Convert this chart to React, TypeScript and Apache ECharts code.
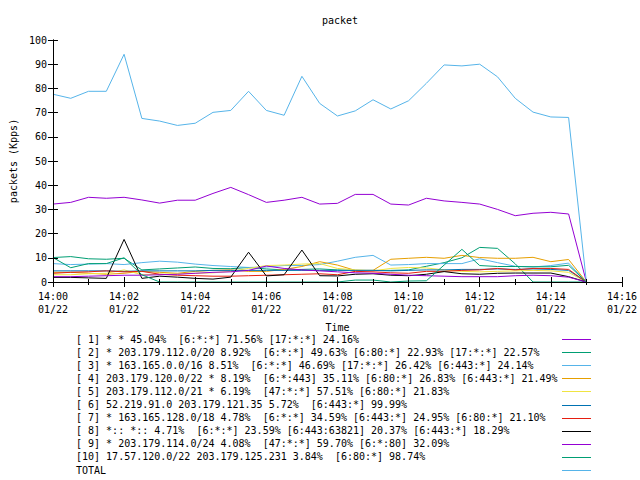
import React, { useEffect, useRef } from "react";
import * as echarts from "echarts";

const FONT = "'DejaVu Sans Mono', 'Liberation Mono', monospace";

const chartTitle = "packet";
const xAxisName = "Time";
const yAxisName = "packets (Kpps)";
const dateLabel = "01/22";
const hourLabel = "14";

const times = [
  "14:00:00", "14:00:30", "14:01:00", "14:01:30", "14:02:00", "14:02:30",
  "14:03:00", "14:03:30", "14:04:00", "14:04:30", "14:05:00", "14:05:30",
  "14:06:00", "14:06:30", "14:07:00", "14:07:30", "14:08:00", "14:08:30",
  "14:09:00", "14:09:30", "14:10:00", "14:10:30", "14:11:00", "14:11:30",
  "14:12:00", "14:12:30", "14:13:00", "14:13:30", "14:14:00", "14:14:30",
  "14:15:00",
];

const s1 = [32.2, 32.9, 35.0, 34.6, 35.0, 33.9, 32.6, 33.8, 33.8, 36.6, 39.1, 36.1, 32.9, 33.8, 35.0, 32.2, 32.5, 36.2, 36.2, 32.2, 31.8, 34.6, 33.5, 32.9, 32.2, 30.0, 27.4, 28.4, 28.8, 28.1, 0];
const s2 = [10.1, 10.5, 9.6, 9.4, 9.8, 5.0, 5.4, 5.8, 6.2, 5.6, 5.5, 6.0, 5.4, 5.0, 5.2, 5.4, 5.0, 4.8, 4.8, 4.8, 5.0, 6.5, 8.0, 10.0, 14.3, 13.9, 7.5, 0, 0, 0, 0];
const s3 = [7.6, 7.2, 7.4, 7.6, 7.2, 8.0, 8.6, 8.2, 7.4, 6.8, 6.4, 6.0, 6.2, 6.8, 6.8, 7.2, 8.6, 10.2, 11.0, 7.0, 7.2, 7.6, 7.6, 7.6, 9.6, 8.0, 6.5, 6.2, 6.8, 7.8, 0];
const s4 = [4.0, 4.0, 3.6, 3.2, 3.6, 4.4, 4.0, 3.6, 4.4, 4.8, 5.0, 4.4, 4.4, 5.2, 6.4, 8.4, 7.0, 4.8, 4.8, 9.4, 9.8, 10.2, 9.8, 11.0, 10.1, 9.8, 9.8, 10.2, 8.4, 9.3, 0];
const s5 = [3.0, 3.0, 3.4, 3.6, 5.0, 3.0, 3.2, 3.4, 3.6, 3.8, 4.4, 5.6, 6.8, 7.0, 7.4, 7.6, 5.6, 5.0, 4.6, 5.6, 6.0, 5.8, 5.0, 4.4, 4.2, 4.4, 4.6, 4.8, 4.6, 4.0, 0];
const s6 = [4.6, 4.6, 4.6, 4.6, 4.4, 4.6, 4.6, 4.6, 4.6, 4.8, 4.8, 4.8, 4.8, 4.8, 4.8, 4.8, 4.8, 4.8, 4.8, 4.6, 4.8, 5.0, 5.0, 5.2, 5.2, 5.4, 5.2, 5.4, 5.2, 4.8, 0];
const s7 = [3.6, 4.0, 4.2, 4.6, 4.2, 4.4, 3.2, 2.8, 2.6, 2.4, 2.4, 2.6, 2.8, 3.0, 3.2, 3.4, 3.0, 4.4, 4.2, 3.8, 3.6, 4.4, 4.4, 4.8, 5.0, 5.6, 5.0, 5.6, 5.6, 5.2, 0];
const s8 = [1.9, 1.9, 1.7, 1.5, 17.6, 1.5, 2.4, 2.0, 1.5, 1.2, 2.0, 12.3, 2.5, 3.0, 13.2, 2.6, 2.5, 3.2, 3.4, 2.8, 2.6, 3.2, 4.3, 3.4, 3.2, 3.6, 3.7, 3.7, 3.7, 2.2, 0];
const s9 = [2.2, 2.2, 2.4, 2.6, 2.8, 2.8, 3.0, 3.2, 3.6, 4.0, 4.2, 4.8, 6.6, 5.6, 5.0, 4.6, 4.2, 3.8, 3.6, 3.2, 2.8, 2.6, 2.4, 2.2, 2.2, 2.2, 2.6, 2.8, 2.6, 2.0, 0];
const s10 = [10.1, 5.9, 7.6, 7.6, 10.0, 3.0, 0, 0, 0, 0, 0, 0, 0, 0, 0, 0, 0, 0.8, 0.8, 0, 0.4, 0.5, 7.0, 13.5, 6.8, 6.4, 6.4, 6.3, 6.3, 6.9, 0];
const total = [77.6, 75.9, 78.8, 78.8, 94.1, 67.6, 66.5, 64.7, 65.6, 70.1, 70.9, 78.8, 70.9, 68.9, 85.0, 73.8, 68.6, 70.7, 75.3, 71.5, 74.9, 82.1, 89.7, 89.3, 90.0, 84.8, 75.9, 70.2, 68.2, 68.0, 0];

const seriesLabels = [
  "[ 1] * * 45.04%  [6:*:*] 71.56% [17:*:*] 24.16%",
  "[ 2] * 203.179.112.0/20 8.92%  [6:*:*] 49.63% [6:80:*] 22.93% [17:*:*] 22.57%",
  "[ 3] * 163.165.0.0/16 8.51%  [6:*:*] 46.69% [17:*:*] 26.42% [6:443:*] 24.14%",
  "[ 4] 203.179.120.0/22 * 8.19%  [6:*:443] 35.11% [6:80:*] 26.83% [6:443:*] 21.49%",
  "[ 5] 203.179.112.0/21 * 6.19%  [47:*:*] 57.51% [6:80:*] 21.83%",
  "[ 6] 52.219.91.0 203.179.121.35 5.72%  [6:443:*] 99.99%",
  "[ 7] * 163.165.128.0/18 4.78%  [6:*:*] 34.59% [6:443:*] 24.95% [6:80:*] 21.10%",
  "[ 8] *:: *:: 4.71%  [6:*:*] 23.59% [6:443:63821] 20.37% [6:443:*] 18.29%",
  "[ 9] * 203.179.114.0/24 4.08%  [47:*:*] 59.70% [6:*:80] 32.09%",
  "[10] 17.57.120.0/22 203.179.125.231 3.84%  [6:80:*] 98.74%",
  "TOTAL",
];

const seriesColors = [
  "#9400d3", "#009e73", "#56b4e9", "#e69f00", "#f0e442",
  "#0072b2", "#e51e10", "#000000", "#9400d3", "#009e73", "#56b4e9",
];

const seriesValues = [s1, s2, s3, s4, s5, s6, s7, s8, s9, s10, total];

function toMinutes(t: string): number {
  const [h, m, s] = t.split(":").map(Number);
  return (h - 14) * 60 + m + s / 60;
}

export default function App() {
  const ref = useRef<HTMLDivElement>(null);
  useEffect(() => {
    document.body.style.margin = "0";
    if (!ref.current) return;
    const chart = echarts.init(ref.current, undefined, { renderer: "svg" });
    const xs = times.map(toMinutes);
    const txt = { fontFamily: FONT, fontSize: 10, color: "#000" };
    const axisLine = { show: true, lineStyle: { color: "#000", width: 1 } };
    const axisTick = { show: true, inside: true, length: 5, lineStyle: { color: "#000", width: 1 } };
    const minorTick = { show: true, splitNumber: 2, length: 3, lineStyle: { color: "#000", width: 1 } };

    const legendTop = 339;
    const legendStep = 13.1;
    const graphic: any[] = [];
    seriesLabels.forEach((lab, i) => {
      const y = legendTop + legendStep * i;
      graphic.push({
        type: "text",
        x: 76,
        y,
        style: { text: lab, fill: "#000", font: `10px ${FONT}`, verticalAlign: "middle", align: "left" },
      });
      graphic.push({
        type: "line",
        shape: { x1: 562, y1: Math.round(y) + 0.5, x2: 591, y2: Math.round(y) + 0.5 },
        style: { stroke: seriesColors[i], lineWidth: 1 },
      });
    });

    chart.setOption({
      animation: false,
      title: {
        text: chartTitle,
        left: 317,
        top: 10,
        textStyle: { ...txt, fontWeight: "normal" },
      },
      grid: { left: 52, right: 18, top: 40, bottom: 198, containLabel: false },
      xAxis: [
        {
          type: "value",
          min: 0,
          max: 16,
          interval: 2,
          position: "bottom",
          z: 5,
          axisLine,
          axisTick,
          minorTick,
          splitLine: { show: false },
          axisLabel: {
            ...txt,
            margin: 8,
            lineHeight: 13,
            formatter: (v: number) => `${hourLabel}:${String(Math.round(v)).padStart(2, "0")}\n${dateLabel}`,
          },
          name: xAxisName,
          nameLocation: "middle",
          nameGap: 40,
          nameTextStyle: txt,
        },
        {
          type: "value",
          min: 0,
          max: 16,
          interval: 2,
          position: "top",
          z: 5,
          axisLine,
          axisTick,
          minorTick,
          splitLine: { show: false },
          axisLabel: { show: false },
        },
      ],
      yAxis: [
        {
          type: "value",
          min: 0,
          max: 100,
          interval: 10,
          position: "left",
          z: 5,
          axisLine,
          axisTick,
          splitLine: { show: false },
          axisLabel: { ...txt, margin: 6 },
          name: yAxisName,
          nameLocation: "middle",
          nameGap: 32,
          nameRotate: 90,
          nameTextStyle: txt,
        },
        {
          type: "value",
          min: 0,
          max: 100,
          interval: 10,
          position: "right",
          z: 5,
          axisLine,
          axisTick,
          splitLine: { show: false },
          axisLabel: { show: false },
        },
      ],
      series: seriesValues.map((vals, i) => ({
        name: seriesLabels[i],
        type: "line",
        xAxisIndex: 0,
        yAxisIndex: 0,
        symbol: "none",
        showSymbol: false,
        lineStyle: { color: seriesColors[i], width: 1 },
        itemStyle: { color: seriesColors[i] },
        data: vals.map((v, j) => [xs[j], v]),
      })),
      graphic,
    });
    return () => chart.dispose();
  }, []);
  return <div ref={ref} style={{ width: 640, height: 480 }} />;
}
